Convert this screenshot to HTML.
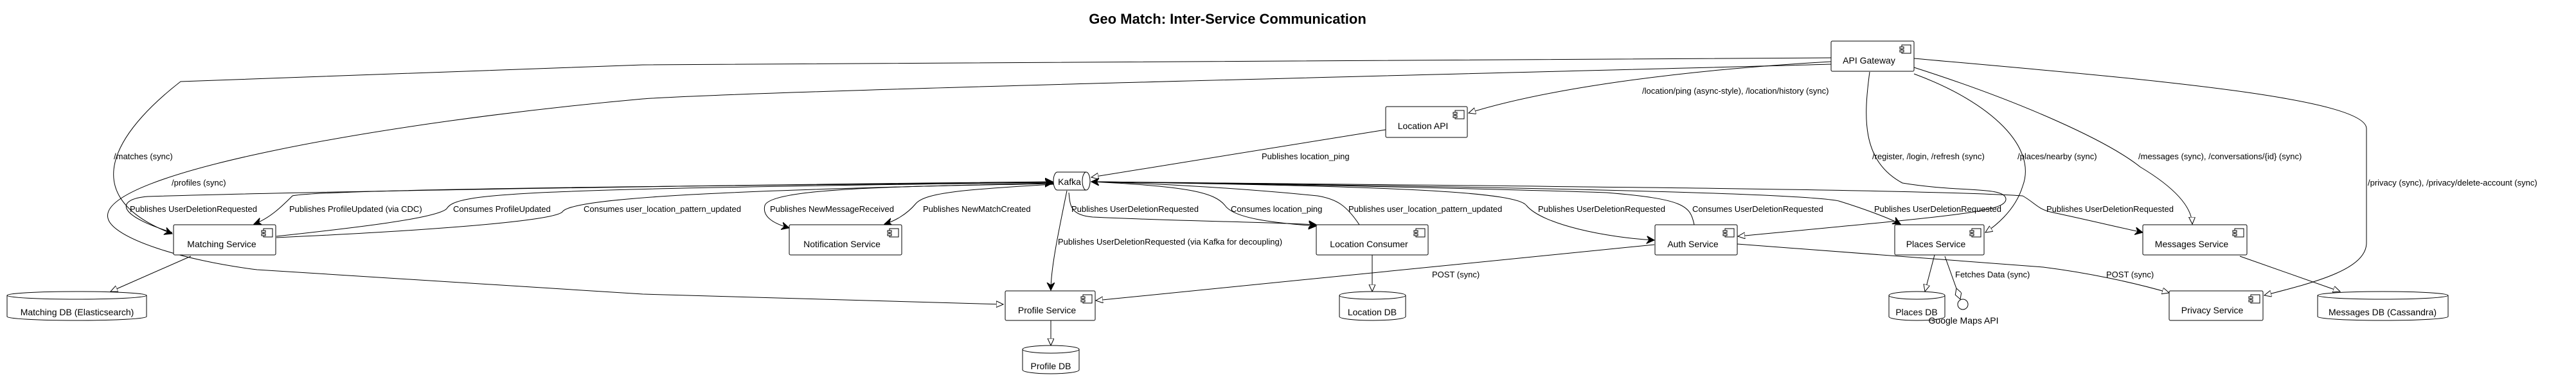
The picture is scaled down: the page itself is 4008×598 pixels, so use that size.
<!DOCTYPE html>
<html><head><meta charset="utf-8"><style>
html,body{margin:0;padding:0;background:#fff;}
svg{display:block;}
text{font-family:"Liberation Sans",sans-serif;fill:#000;}
.l{font-size:13px;}
.n{font-size:14px;}
.e{fill:none;stroke:#000;stroke-width:1;}
.b{fill:#fff;stroke:#000;stroke-width:1;}
</style></head><body>
<svg width="4008" height="598" viewBox="0 0 4008 598" xmlns="http://www.w3.org/2000/svg">
<defs>
<marker id="ch" markerUnits="userSpaceOnUse" markerWidth="14" markerHeight="14" refX="12" refY="6" orient="auto">
<path d="M0,0 L12,6 L0,12 L4,6 Z" fill="#000" stroke="#000" stroke-width="1"/></marker>
<marker id="tr" markerUnits="userSpaceOnUse" markerWidth="14" markerHeight="14" refX="11" refY="5" orient="auto">
<path d="M0,0 L11,5 L0,10 Z" fill="#fff" stroke="#000" stroke-width="1"/></marker>
<marker id="dm" markerUnits="userSpaceOnUse" markerWidth="20" markerHeight="12" refX="18" refY="5" orient="auto">
<path d="M0,5 L9,0 L18,5 L9,10 Z" fill="#fff" stroke="#000" stroke-width="1"/></marker>
</defs>
<text x="1910" y="37" text-anchor="middle" style="font-size:22px;font-weight:bold">Geo Match: Inter-Service Communication</text>

<!-- edges from gateway -->
<path class="e" d="M2849,90 L1000,101 L281,127 C200,190 100,300 268,364" marker-end="url(#ch)"/>
<path class="e" d="M2849,100 C2500,110 1200,140 1000,154 C600,190 150,270 168,340 C175,370 280,405 400,420 L1000,458 L1561,474" marker-end="url(#tr)"/>
<path class="e" d="M2849,96 C2600,110 2400,140 2285,176" marker-end="url(#tr)"/>
<path class="e" d="M2909,112 C2900,180 2895,250 2960,285 C3050,300 3120,290 3121,310 C3121,330 3050,335 2704,368" marker-end="url(#tr)"/>
<path class="e" d="M2978,115 C3100,160 3170,230 3147,290 C3135,330 3100,355 3089,362" marker-end="url(#tr)"/>
<path class="e" d="M2978,105 C3150,160 3280,220 3330,260 C3380,290 3410,320 3411,349" marker-end="url(#tr)"/>
<path class="e" d="M2978,91 C3300,120 3680,150 3682,200 L3682,378 C3682,420 3600,440 3523,460" marker-end="url(#tr)"/>
<path class="e" d="M2156,202 L1698,276" marker-end="url(#tr)"/>

<!-- kafka edges -->
<path class="e" d="M268,362 C180,335 180,310 230,306 C600,295 1400,285 1638,283" marker-end="url(#ch)"/>
<path class="e" d="M1639,284 C1000,290 500,295 455,305 C440,320 420,340 395,349" marker-end="url(#ch)"/>
<path class="e" d="M430,368 C550,355 680,340 695,325 C710,300 800,295 1638,284" marker-end="url(#ch)"/>
<path class="e" d="M430,370 C650,360 860,345 875,330 C890,305 1200,295 1638,285" marker-end="url(#ch)"/>
<path class="e" d="M1639,286 C1450,290 1200,290 1190,320 C1185,340 1210,350 1228,355" marker-end="url(#ch)"/>
<path class="e" d="M1639,287 C1500,295 1440,300 1425,317 C1410,335 1390,345 1376,349" marker-end="url(#ch)"/>
<path class="e" d="M1660,297 C1645,370 1635,420 1635,452" marker-end="url(#ch)"/>
<path class="e" d="M1663,300 C1665,320 1665,335 1700,338 C1850,345 1950,345 2048,350" marker-end="url(#ch)"/>
<path class="e" d="M1697,283 C1850,290 1890,300 1906,320 C1920,340 1980,347 2048,352" marker-end="url(#ch)"/>
<path class="e" d="M2115,350 C2095,320 2080,310 2050,305 C1900,290 1750,284 1698,283" marker-end="url(#ch)"/>
<path class="e" d="M1697,283 C2200,290 2360,300 2375,320 C2400,350 2500,370 2574,374" marker-end="url(#ch)"/>
<path class="e" d="M2636,350 C2630,320 2620,310 2500,300 C2200,290 1800,284 1698,283" marker-end="url(#ch)"/>
<path class="e" d="M1697,283 C2300,290 2800,300 2861,313 C2900,325 2940,340 2957,349" marker-end="url(#ch)"/>
<path class="e" d="M1697,283 C2400,290 3000,295 3147,305 C3165,315 3170,325 3190,330 C3260,345 3300,355 3334,362" marker-end="url(#ch)"/>

<!-- other -->
<path class="e" d="M2574,381 L1705,468" marker-end="url(#tr)"/>
<path class="e" d="M2703,380 L3179,416 C3250,425 3320,440 3375,456" marker-end="url(#tr)"/>
<path class="e" d="M3010,397 L2995,454" marker-end="url(#tr)"/>
<path class="e" d="M3026,399 L3050,466" marker-end="url(#dm)"/>
<path class="e" d="M3485,399 L3641,454" marker-end="url(#tr)"/>
<path class="e" d="M2135,397 L2135,454" marker-end="url(#tr)"/>
<path class="e" d="M1635,499 L1635,538" marker-end="url(#tr)"/>
<path class="e" d="M297,399 L172,454" marker-end="url(#tr)"/>

<!-- component boxes -->
<g id="comps">
<rect class="b" x="270" y="350" width="159" height="47" rx="2"/><text class="n" x="345" y="385" text-anchor="middle">Matching Service</text>
<rect class="b" x="1228" y="350" width="175" height="47" rx="2"/><text class="n" x="1310" y="385" text-anchor="middle">Notification Service</text>
<rect class="b" x="1564" y="453" width="140" height="46" rx="2"/><text class="n" x="1629" y="488" text-anchor="middle">Profile Service</text>
<rect class="b" x="2156" y="166" width="127" height="48" rx="2"/><text class="n" x="2214" y="201" text-anchor="middle">Location API</text>
<rect class="b" x="2849" y="64" width="129" height="47" rx="2"/><text class="n" x="2908" y="99" text-anchor="middle">API Gateway</text>
<rect class="b" x="2048" y="350" width="174" height="47" rx="2"/><text class="n" x="2130" y="385" text-anchor="middle">Location Consumer</text>
<rect class="b" x="2575" y="350" width="128" height="47" rx="2"/><text class="n" x="2634" y="385" text-anchor="middle">Auth Service</text>
<rect class="b" x="2948" y="350" width="139" height="47" rx="2"/><text class="n" x="3012" y="385" text-anchor="middle">Places Service</text>
<rect class="b" x="3334" y="350" width="162" height="47" rx="2"/><text class="n" x="3410" y="385" text-anchor="middle">Messages Service</text>
<rect class="b" x="3375" y="453" width="146" height="46" rx="2"/><text class="n" x="3442" y="488" text-anchor="middle">Privacy Service</text>
</g>
<!-- component icons -->
<g fill="#fff" stroke="#000" stroke-width="1">
<g transform="translate(410,356)"><rect x="0" y="0" width="14" height="13"/><rect x="-3" y="3" width="6" height="3"/><rect x="-3" y="8" width="6" height="3"/></g>
<g transform="translate(1384,356)"><rect x="0" y="0" width="14" height="13"/><rect x="-3" y="3" width="6" height="3"/><rect x="-3" y="8" width="6" height="3"/></g>
<g transform="translate(1685,459)"><rect x="0" y="0" width="14" height="13"/><rect x="-3" y="3" width="6" height="3"/><rect x="-3" y="8" width="6" height="3"/></g>
<g transform="translate(2264,172)"><rect x="0" y="0" width="14" height="13"/><rect x="-3" y="3" width="6" height="3"/><rect x="-3" y="8" width="6" height="3"/></g>
<g transform="translate(2959,70)"><rect x="0" y="0" width="14" height="13"/><rect x="-3" y="3" width="6" height="3"/><rect x="-3" y="8" width="6" height="3"/></g>
<g transform="translate(2203,356)"><rect x="0" y="0" width="14" height="13"/><rect x="-3" y="3" width="6" height="3"/><rect x="-3" y="8" width="6" height="3"/></g>
<g transform="translate(2684,356)"><rect x="0" y="0" width="14" height="13"/><rect x="-3" y="3" width="6" height="3"/><rect x="-3" y="8" width="6" height="3"/></g>
<g transform="translate(3068,356)"><rect x="0" y="0" width="14" height="13"/><rect x="-3" y="3" width="6" height="3"/><rect x="-3" y="8" width="6" height="3"/></g>
<g transform="translate(3477,356)"><rect x="0" y="0" width="14" height="13"/><rect x="-3" y="3" width="6" height="3"/><rect x="-3" y="8" width="6" height="3"/></g>
<g transform="translate(3502,459)"><rect x="0" y="0" width="14" height="13"/><rect x="-3" y="3" width="6" height="3"/><rect x="-3" y="8" width="6" height="3"/></g>
</g>

<!-- Kafka queue -->
<path class="b" d="M1645,268 L1690,268 A6,14 0 0 1 1690,296 L1645,296 A6,14 0 0 1 1645,268 Z"/>
<path class="e" d="M1690,268 A6,14 0 0 0 1690,296"/>
<text class="n" x="1664" y="288" text-anchor="middle">Kafka</text>

<!-- databases -->
<g>
<path class="b" d="M11,460 A108.5,6 0 0 1 228,460 L228,493 A108.5,6 0 0 1 11,493 Z"/><path class="e" d="M11,460 A108.5,6 0 0 0 228,460"/>
<text class="n" x="120" y="491" text-anchor="middle">Matching DB (Elasticsearch)</text>
<path class="b" d="M1591,544 A44,6 0 0 1 1679,544 L1679,576 A44,6 0 0 1 1591,576 Z"/><path class="e" d="M1591,544 A44,6 0 0 0 1679,544"/>
<text class="n" x="1635" y="575" text-anchor="middle">Profile DB</text>
<path class="b" d="M2084,460 A51.5,6 0 0 1 2187,460 L2187,493 A51.5,6 0 0 1 2084,493 Z"/><path class="e" d="M2084,460 A51.5,6 0 0 0 2187,460"/>
<text class="n" x="2135" y="491" text-anchor="middle">Location DB</text>
<path class="b" d="M2939,460 A43.5,6 0 0 1 3026,460 L3026,493 A43.5,6 0 0 1 2939,493 Z"/><path class="e" d="M2939,460 A43.5,6 0 0 0 3026,460"/>
<text class="n" x="2982" y="491" text-anchor="middle">Places DB</text>
<path class="b" d="M3606,460 A101.5,6 0 0 1 3809,460 L3809,493 A101.5,6 0 0 1 3606,493 Z"/><path class="e" d="M3606,460 A101.5,6 0 0 0 3809,460"/>
<text class="n" x="3707" y="491" text-anchor="middle">Messages DB (Cassandra)</text>
</g>
<ellipse class="b" cx="3054" cy="474" rx="8" ry="8"/>
<text class="n" x="3055" y="504" text-anchor="middle">Google Maps API</text>

<!-- labels -->
<g class="l">
<text x="177" y="248">/matches (sync)</text>
<text x="267" y="289">/profiles (sync)</text>
<text x="202" y="330">Publishes UserDeletionRequested</text>
<text x="450" y="330">Publishes ProfileUpdated (via CDC)</text>
<text x="705" y="330">Consumes ProfileUpdated</text>
<text x="908" y="330">Consumes user_location_pattern_updated</text>
<text x="1198" y="330">Publishes NewMessageReceived</text>
<text x="1436" y="330">Publishes NewMatchCreated</text>
<text x="1963" y="248">Publishes location_ping</text>
<text x="1667" y="330">Publishes UserDeletionRequested</text>
<text x="1915" y="330">Consumes location_ping</text>
<text x="1646" y="381">Publishes UserDeletionRequested (via Kafka for decoupling)</text>
<text x="2098" y="330">Publishes user_location_pattern_updated</text>
<text x="2393" y="330">Publishes UserDeletionRequested</text>
<text x="2633" y="330">Consumes UserDeletionRequested</text>
<text x="2916" y="330">Publishes UserDeletionRequested</text>
<text x="3184" y="330">Publishes UserDeletionRequested</text>
<text x="2555" y="146">/location/ping (async-style), /location/history (sync)</text>
<text x="2913" y="248">/register, /login, /refresh (sync)</text>
<text x="3139" y="248">/places/nearby (sync)</text>
<text x="3327" y="248">/messages (sync), /conversations/{id} (sync)</text>
<text x="3684" y="289">/privacy (sync), /privacy/delete-account (sync)</text>
<text x="2228" y="432">POST (sync)</text>
<text x="3042" y="432">Fetches Data (sync)</text>
<text x="3277" y="432">POST (sync)</text>
</g>
</svg>
</body></html>
